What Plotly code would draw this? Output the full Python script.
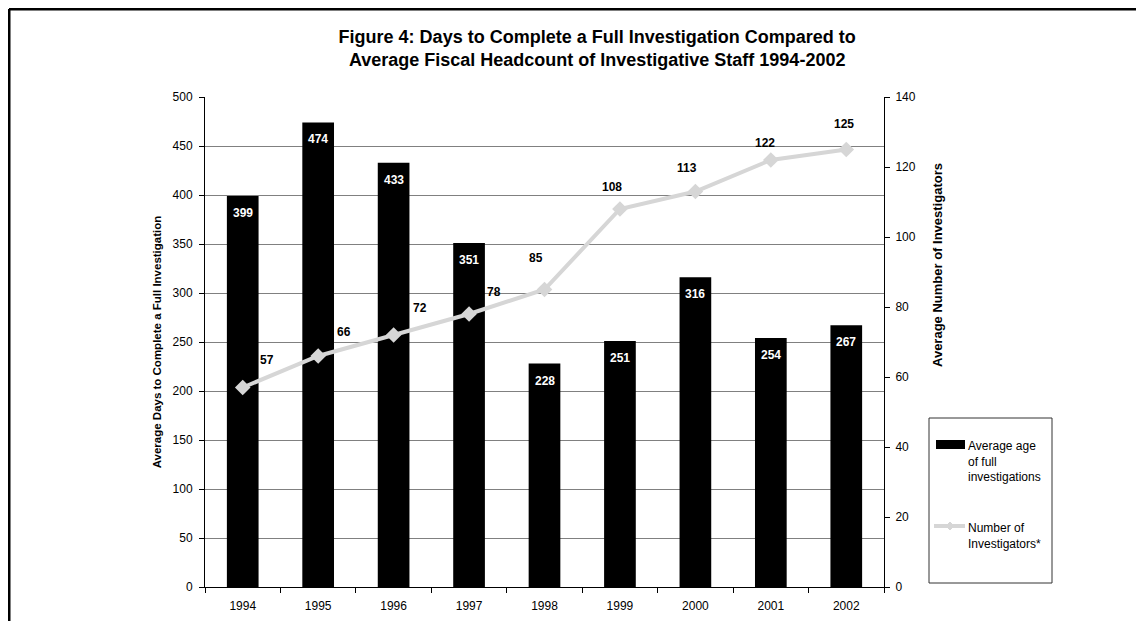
import plotly.graph_objects as go

years = ["1994", "1995", "1996", "1997", "1998", "1999", "2000", "2001", "2002"]
avg_age_days = [399, 474, 433, 351, 228, 251, 316, 254, 267]
num_investigators = [57, 66, 72, 78, 85, 108, 113, 122, 125]

bar_name = "Average age<br>of full<br>investigations"
line_name = "Number of<br>Investigators*"

# label offsets (pixels) for the line labels, as Excel placed them
line_label_dx = [24, 26, 26, 25, -9, -8, -8, -6, -2]
line_label_dy = [28, 24, 27, 22, 32, 22, 24, 17, 26]

FONT = "Arial, Liberation Sans, sans-serif"
LINE_GREY = "#d6d6d6"


def px(x):
    # page pixel -> paper x (plot area spans 205..884 on the page)
    return (x - 205) / 679.0


def py(y):
    # page pixel -> paper y (plot area spans 97..587 on the page)
    return (587 - y) / 490.0


fig = go.Figure()

fig.add_trace(go.Bar(
    x=years, y=avg_age_days, name=bar_name,
    marker_color="black", marker_line_width=0,
))

fig.add_trace(go.Scatter(
    x=years, y=num_investigators, yaxis="y2",
    mode="lines+markers", name=line_name,
    line=dict(color=LINE_GREY, width=4),
    marker=dict(symbol="diamond", size=12, color=LINE_GREY),
))

annotations = []
for i, v in enumerate(avg_age_days):
    annotations.append(dict(
        x=i, y=v, xref="x", yref="y", text="<b>%d</b>" % v,
        showarrow=False, yshift=-17, yanchor="middle",
        font=dict(family=FONT, size=12, color="white"),
    ))
for i, v in enumerate(num_investigators):
    annotations.append(dict(
        x=i, y=v, xref="x", yref="y2", text="<b>%d</b>" % v,
        showarrow=False, xshift=line_label_dx[i], yshift=line_label_dy[i],
        yanchor="middle",
        font=dict(family=FONT, size=12, color="black"),
    ))

# right axis title (sits high, above the legend box)
annotations.append(dict(
    x=px(937), y=py(265), xref="paper", yref="paper",
    text="<b>Average Number of Investigators</b>", textangle=-90,
    showarrow=False, xanchor="center", yanchor="middle",
    font=dict(family=FONT, size=13, color="black"),
))

# hand-drawn legend texts
annotations.append(dict(
    x=px(966), y=py(437), xref="paper", yref="paper", text=bar_name,
    showarrow=False, xanchor="left", yanchor="top", align="left",
    font=dict(family=FONT, size=12, color="black"),
))
annotations.append(dict(
    x=px(966), y=py(519), xref="paper", yref="paper", text=line_name,
    showarrow=False, xanchor="left", yanchor="top", align="left",
    font=dict(family=FONT, size=12, color="black"),
))

shapes = [
    # outer frame (left and top edges visible)
    dict(type="line", xref="paper", yref="paper",
         x0=px(9), x1=px(9), y0=-0.3, y1=py(9),
         line=dict(color="black", width=3)),
    dict(type="line", xref="paper", yref="paper",
         x0=px(9), x1=1.6, y0=py(9), y1=py(9),
         line=dict(color="black", width=3)),
    # legend box
    dict(type="rect", xref="paper", yref="paper",
         x0=px(929), x1=px(1052), y0=py(583), y1=py(418),
         line=dict(color="#333333", width=1)),
    # legend swatches
    dict(type="rect", xref="paper", yref="paper",
         x0=px(936), x1=px(965), y0=py(449), y1=py(440),
         fillcolor="black", line=dict(width=0)),
    dict(type="line", xref="paper", yref="paper",
         x0=px(934), x1=px(965), y0=py(526), y1=py(526),
         line=dict(color=LINE_GREY, width=4)),
    dict(type="path", xref="paper", yref="paper",
         xsizemode="pixel", ysizemode="pixel",
         xanchor=px(950), yanchor=py(526),
         path="M -4 0 L 0 4 L 4 0 L 0 -4 Z",
         fillcolor=LINE_GREY, line=dict(color=LINE_GREY, width=1)),
]

fig.update_layout(
    width=1144, height=621,
    margin=dict(l=197, r=268, t=89, b=42),
    paper_bgcolor="white", plot_bgcolor="white",
    font=dict(family=FONT, size=12, color="black"),
    title=dict(
        text="<b>Figure 4: Days to Complete a Full Investigation Compared to<br>"
             "Average Fiscal Headcount of Investigative Staff 1994-2002</b>",
        x=0.515, xanchor="center", y=0.9436, yanchor="middle",
        font=dict(family=FONT, size=18, color="black"),
    ),
    bargap=0.58,
    showlegend=False,
    xaxis=dict(
        type="category", range=[-0.5, len(years) - 0.5],
        tickson="boundaries", ticks="outside", ticklen=5,
        tickcolor="black", showline=True, linecolor="black", linewidth=1,
        showgrid=False, tickfont=dict(size=12), tickangle=0,
        ticklabelstandoff=8,
    ),
    yaxis=dict(
        range=[0, 500], dtick=50, ticks="outside", ticklen=5, tickcolor="black",
        showline=True, linecolor="black", linewidth=1,
        showgrid=True, gridcolor="#808080", gridwidth=1, zeroline=False,
        ticklabelstandoff=4,
        title=dict(text="<b>Average Days to Complete a Full Investigation</b>",
                   font=dict(size=11.5), standoff=8),
    ),
    yaxis2=dict(
        range=[0, 140], dtick=20, overlaying="y", side="right",
        ticks="outside", ticklen=5, tickcolor="black",
        showline=True, linecolor="black", linewidth=1,
        showgrid=False, zeroline=False, ticklabelstandoff=3,
    ),
    annotations=annotations,
    shapes=shapes,
)

fig.write_html("out.html")
